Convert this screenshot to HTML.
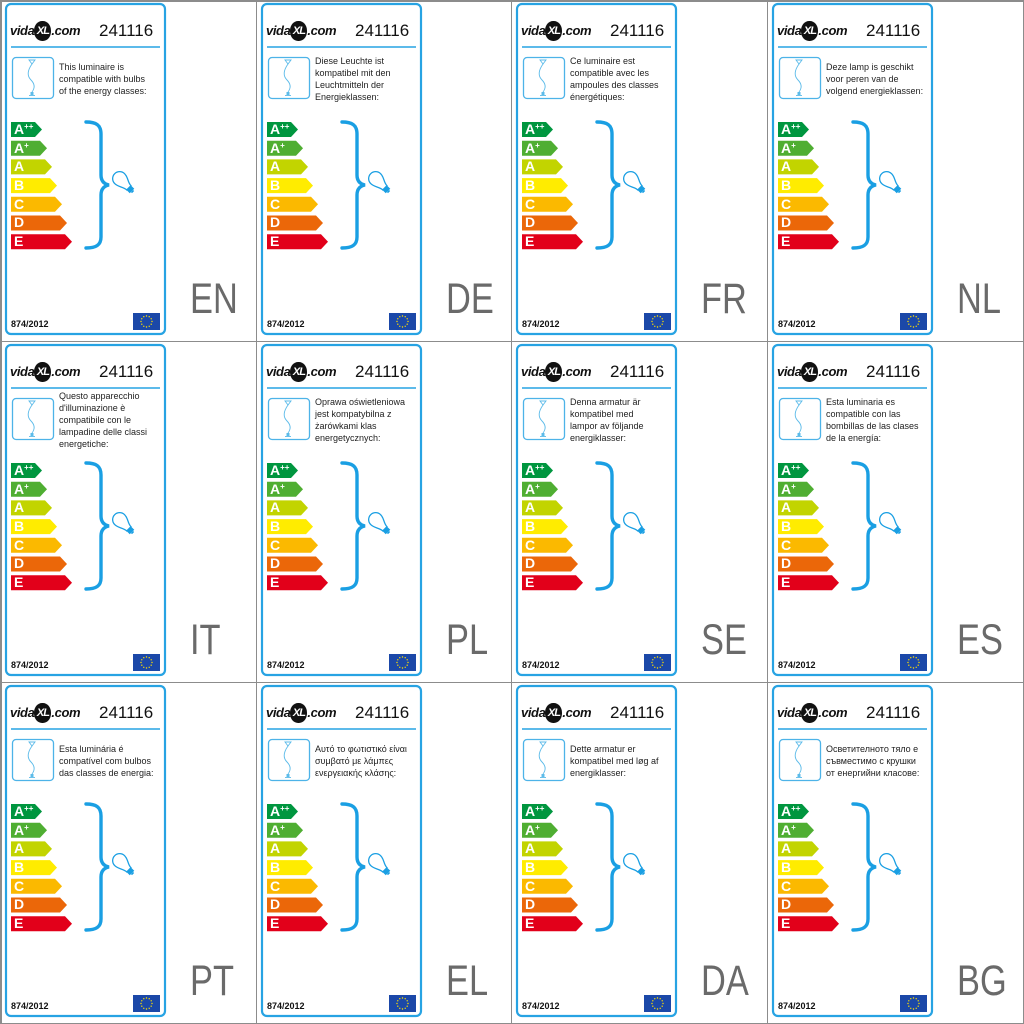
<!DOCTYPE html>
<html><head><meta charset="utf-8">
<style>
html,body{margin:0;padding:0;background:#fff;}
body{width:1024px;height:1024px;position:relative;overflow:hidden;font-family:"Liberation Sans","DejaVu Sans",sans-serif;}
.gl{position:absolute;background:#8c8c8c;}
.c{position:absolute;width:256px;height:341px;}
.c svg.g{position:absolute;left:0;top:0;width:256px;height:341px;}
.logo{position:absolute;left:10px;top:21px;font:italic bold 13px/20px "Liberation Sans",sans-serif;color:#111;letter-spacing:-0.4px;white-space:nowrap;}
.logo b{display:inline-block;background:#111;color:#fff;border-radius:48%;width:17px;height:20px;line-height:20px;text-align:center;font-size:11px;vertical-align:top;letter-spacing:-1px;}
.num{position:absolute;left:99px;top:21px;font:17px/20px "Liberation Sans",sans-serif;color:#111;}
.t{position:absolute;left:59px;top:55px;height:48px;width:106px;display:flex;align-items:center;font:9px/12px "Liberation Sans","DejaVu Sans",sans-serif;color:#222;white-space:nowrap;}
.bars{position:absolute;left:14px;top:122px;font:bold 14px/15px "Liberation Sans",sans-serif;color:#fff;}
.bars div{height:18.7px;}
.bars sup{font-size:8px;vertical-align:5px;line-height:0;}
.reg{position:absolute;left:11px;top:318px;font:bold 9px/12px "Liberation Sans",sans-serif;color:#111;}
.lang{position:absolute;left:190px;top:278px;font:43px/43px "Liberation Sans",sans-serif;color:#6a6a6a;transform:scaleX(.8);transform-origin:0 0;}
</style></head><body>
<svg width="0" height="0" style="position:absolute">
<defs>
<symbol id="L" viewBox="0 0 256 341">
<rect x="6" y="4" width="159" height="330" rx="5" fill="none" stroke="#27a3e3" stroke-width="2.2"/>
<line x1="11" y1="47" x2="160" y2="47" stroke="#27a3e3" stroke-width="1.5"/>
<rect x="12.5" y="57.5" width="41" height="41" rx="3.5" fill="none" stroke="#4db3e8" stroke-width="1.3"/>
<path d="M29,60 L35,60 L32,64 Z" fill="none" stroke="#5cbbe9" stroke-width="0.9"/>
<path d="M32,64 C27,71 27,76 31,80 C35,84 35,88 32,92" fill="none" stroke="#5cbbe9" stroke-width="0.9"/>
<rect x="30.5" y="92" width="3" height="3" fill="#5cbbe9"/>
<line x1="29" y1="95.5" x2="35" y2="95.5" stroke="#5cbbe9" stroke-width="0.9"/>
<polygon points="11,122 35,122 42,129.5 35,137 11,137" fill="#00963f"/>
<polygon points="11,140.7 40,140.7 47,148.2 40,155.7 11,155.7" fill="#4fae32"/>
<polygon points="11,159.4 45,159.4 52,166.9 45,174.4 11,174.4" fill="#c2d400"/>
<polygon points="11,178.1 50,178.1 57,185.6 50,193.1 11,193.1" fill="#ffec00"/>
<polygon points="11,196.8 55,196.8 62,204.3 55,211.8 11,211.8" fill="#fbb900"/>
<polygon points="11,215.5 60,215.5 67,223 60,230.5 11,230.5" fill="#eb6709"/>
<polygon points="11,234.2 65,234.2 72,241.7 65,249.2 11,249.2" fill="#e2001a"/>
<path d="M86,122 C96,122 101,125 101,134 L101,175 C101,181 104,184 109,185 C104,186 101,189 101,195 L101,237 C101,245 96,248 86,248" fill="none" stroke="#1a9fe3" stroke-width="3.4" stroke-linecap="round"/>
<g transform="translate(120,179) rotate(-45)">
<path d="M-3,12.5 C-3,7.5 -7,5 -7,-0.5 A7,7 0 1 1 7,-0.5 C7,5 3,7.5 3,12.5 Z" fill="#fff" stroke="#1a9fe3" stroke-width="1.3"/>
<rect x="-3.2" y="12.5" width="6.4" height="4.5" fill="#1a9fe3"/>
<rect x="-1.5" y="17" width="3" height="1.5" fill="#1a9fe3"/>
</g>
<rect x="133" y="313" width="27" height="17" fill="#1b48a8"/>
<g fill="#ffe000">
<circle cx="146.5" cy="316" r="0.7"/><circle cx="149.2" cy="316.7" r="0.7"/><circle cx="151.2" cy="318.8" r="0.7"/><circle cx="152" cy="321.5" r="0.7"/><circle cx="151.2" cy="324.2" r="0.7"/><circle cx="149.2" cy="326.3" r="0.7"/><circle cx="146.5" cy="327" r="0.7"/><circle cx="143.8" cy="326.3" r="0.7"/><circle cx="141.8" cy="324.2" r="0.7"/><circle cx="141" cy="321.5" r="0.7"/><circle cx="141.8" cy="318.8" r="0.7"/><circle cx="143.8" cy="316.7" r="0.7"/>
</g>
</symbol>
</defs>
</svg>

<!-- grid lines -->
<div class="gl" style="left:0;top:0;width:1024px;height:1.5px"></div>
<div class="gl" style="left:0;top:1022.5px;width:1024px;height:1.5px"></div>
<div class="gl" style="left:0;top:0;width:1.5px;height:1024px"></div>
<div class="gl" style="left:1022.5px;top:0;width:1.5px;height:1024px"></div>
<div class="gl" style="left:255.5px;top:0;width:1.2px;height:1024px"></div>
<div class="gl" style="left:511px;top:0;width:1.2px;height:1024px"></div>
<div class="gl" style="left:766.8px;top:0;width:1.2px;height:1024px"></div>
<div class="gl" style="left:0;top:340.8px;width:1024px;height:1.2px"></div>
<div class="gl" style="left:0;top:681.8px;width:1024px;height:1.2px"></div>

<!-- Row 1 -->
<div class="c" style="left:0px;top:0px"><svg class="g"><use href="#L"/></svg>
<div class="logo">vida<b>XL</b>.com</div><div class="num">241116</div>
<div class="t"><div>This luminaire is<br>compatible with bulbs<br>of the energy classes:</div></div>
<div class="bars"><div>A<sup>++</sup></div><div>A<sup>+</sup></div><div>A</div><div>B</div><div>C</div><div>D</div><div>E</div></div>
<div class="reg">874/2012</div><div class="lang">EN</div></div>

<div class="c" style="left:256px;top:0px"><svg class="g"><use href="#L"/></svg>
<div class="logo">vida<b>XL</b>.com</div><div class="num">241116</div>
<div class="t"><div>Diese Leuchte ist<br>kompatibel mit den<br>Leuchtmitteln der<br>Energieklassen:</div></div>
<div class="bars"><div>A<sup>++</sup></div><div>A<sup>+</sup></div><div>A</div><div>B</div><div>C</div><div>D</div><div>E</div></div>
<div class="reg">874/2012</div><div class="lang">DE</div></div>

<div class="c" style="left:511px;top:0px"><svg class="g"><use href="#L"/></svg>
<div class="logo">vida<b>XL</b>.com</div><div class="num">241116</div>
<div class="t"><div>Ce luminaire est<br>compatible avec les<br>ampoules des classes<br>énergétiques:</div></div>
<div class="bars"><div>A<sup>++</sup></div><div>A<sup>+</sup></div><div>A</div><div>B</div><div>C</div><div>D</div><div>E</div></div>
<div class="reg">874/2012</div><div class="lang">FR</div></div>

<div class="c" style="left:767px;top:0px"><svg class="g"><use href="#L"/></svg>
<div class="logo">vida<b>XL</b>.com</div><div class="num">241116</div>
<div class="t"><div>Deze lamp is geschikt<br>voor peren van de<br>volgend energieklassen:</div></div>
<div class="bars"><div>A<sup>++</sup></div><div>A<sup>+</sup></div><div>A</div><div>B</div><div>C</div><div>D</div><div>E</div></div>
<div class="reg">874/2012</div><div class="lang">NL</div></div>

<!-- Row 2 -->
<div class="c" style="left:0px;top:341px"><svg class="g"><use href="#L"/></svg>
<div class="logo">vida<b>XL</b>.com</div><div class="num">241116</div>
<div class="t"><div>Questo apparecchio<br>d'illuminazione è<br>compatibile con le<br>lampadine delle classi<br>energetiche:</div></div>
<div class="bars"><div>A<sup>++</sup></div><div>A<sup>+</sup></div><div>A</div><div>B</div><div>C</div><div>D</div><div>E</div></div>
<div class="reg">874/2012</div><div class="lang">IT</div></div>

<div class="c" style="left:256px;top:341px"><svg class="g"><use href="#L"/></svg>
<div class="logo">vida<b>XL</b>.com</div><div class="num">241116</div>
<div class="t"><div>Oprawa oświetleniowa<br>jest kompatybilna z<br>żarówkami klas<br>energetycznych:</div></div>
<div class="bars"><div>A<sup>++</sup></div><div>A<sup>+</sup></div><div>A</div><div>B</div><div>C</div><div>D</div><div>E</div></div>
<div class="reg">874/2012</div><div class="lang">PL</div></div>

<div class="c" style="left:511px;top:341px"><svg class="g"><use href="#L"/></svg>
<div class="logo">vida<b>XL</b>.com</div><div class="num">241116</div>
<div class="t"><div>Denna armatur är<br>kompatibel med<br>lampor av följande<br>energiklasser:</div></div>
<div class="bars"><div>A<sup>++</sup></div><div>A<sup>+</sup></div><div>A</div><div>B</div><div>C</div><div>D</div><div>E</div></div>
<div class="reg">874/2012</div><div class="lang">SE</div></div>

<div class="c" style="left:767px;top:341px"><svg class="g"><use href="#L"/></svg>
<div class="logo">vida<b>XL</b>.com</div><div class="num">241116</div>
<div class="t"><div>Esta luminaria es<br>compatible con las<br>bombillas de las clases<br>de la energía:</div></div>
<div class="bars"><div>A<sup>++</sup></div><div>A<sup>+</sup></div><div>A</div><div>B</div><div>C</div><div>D</div><div>E</div></div>
<div class="reg">874/2012</div><div class="lang">ES</div></div>

<!-- Row 3 -->
<div class="c" style="left:0px;top:682px"><svg class="g"><use href="#L"/></svg>
<div class="logo">vida<b>XL</b>.com</div><div class="num">241116</div>
<div class="t"><div>Esta luminária é<br>compatível com bulbos<br>das classes de energia:</div></div>
<div class="bars"><div>A<sup>++</sup></div><div>A<sup>+</sup></div><div>A</div><div>B</div><div>C</div><div>D</div><div>E</div></div>
<div class="reg">874/2012</div><div class="lang">PT</div></div>

<div class="c" style="left:256px;top:682px"><svg class="g"><use href="#L"/></svg>
<div class="logo">vida<b>XL</b>.com</div><div class="num">241116</div>
<div class="t"><div>Αυτό το φωτιστικό είναι<br>συμβατό με λάμπες<br>ενεργειακής κλάσης:</div></div>
<div class="bars"><div>A<sup>++</sup></div><div>A<sup>+</sup></div><div>A</div><div>B</div><div>C</div><div>D</div><div>E</div></div>
<div class="reg">874/2012</div><div class="lang">EL</div></div>

<div class="c" style="left:511px;top:682px"><svg class="g"><use href="#L"/></svg>
<div class="logo">vida<b>XL</b>.com</div><div class="num">241116</div>
<div class="t"><div>Dette armatur er<br>kompatibel med løg af<br>energiklasser:</div></div>
<div class="bars"><div>A<sup>++</sup></div><div>A<sup>+</sup></div><div>A</div><div>B</div><div>C</div><div>D</div><div>E</div></div>
<div class="reg">874/2012</div><div class="lang">DA</div></div>

<div class="c" style="left:767px;top:682px"><svg class="g"><use href="#L"/></svg>
<div class="logo">vida<b>XL</b>.com</div><div class="num">241116</div>
<div class="t"><div>Осветителното тяло е<br>съвместимо с крушки<br>от енергийни класове:</div></div>
<div class="bars"><div>A<sup>++</sup></div><div>A<sup>+</sup></div><div>A</div><div>B</div><div>C</div><div>D</div><div>E</div></div>
<div class="reg">874/2012</div><div class="lang">BG</div></div>

</body></html>
